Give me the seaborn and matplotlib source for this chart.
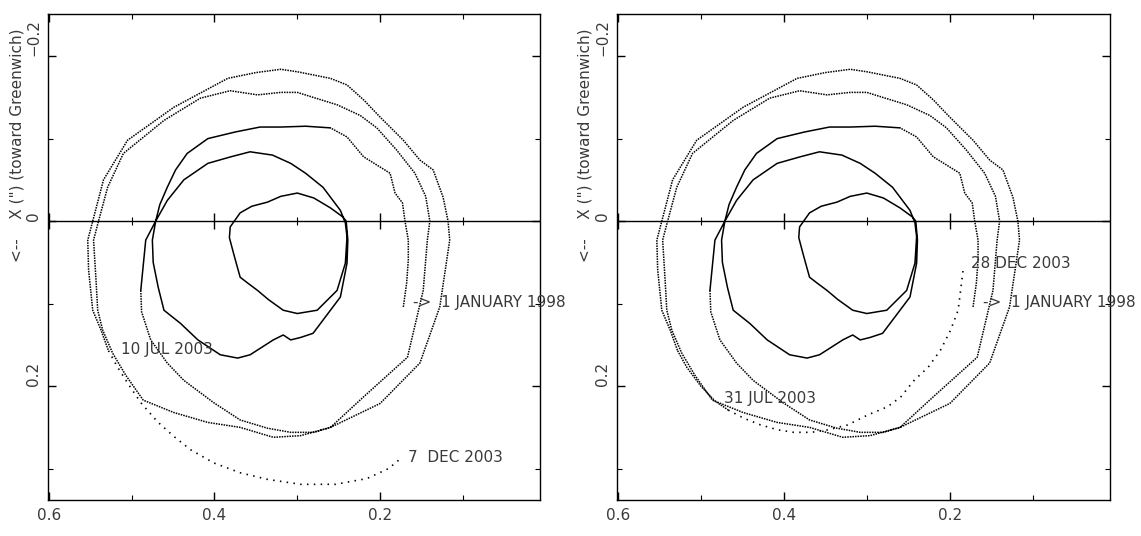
import matplotlib
matplotlib.use("Agg")
import matplotlib.pyplot as plt
import seaborn as sns

sns.set_theme(style="white")
plt.rcParams["font.family"] = ["DejaVu Sans"]

# Polar motion track, y (") horizontal, x (") vertical
# 1 Jan 1998 start, outer part of first loop
start_y = [0.172, 0.168, 0.166, 0.166, 0.170, 0.173, 0.182, 0.188, 0.220, 0.240, 0.260]
start_x = [0.104, 0.075, 0.047, 0.023, 0.000, -0.022, -0.034, -0.058, -0.078, -0.102, -0.113]

# inner loops (1998-2000), dense enough to look solid
inner_y = [0.260, 0.290, 0.320, 0.345, 0.375, 0.408, 0.433, 0.447, 0.457, 0.466, 0.471,
           0.475, 0.474, 0.468, 0.461, 0.441, 0.420, 0.393, 0.372, 0.357, 0.329, 0.317,
           0.308, 0.296, 0.281, 0.269, 0.248, 0.240, 0.239, 0.241,
           0.245, 0.260, 0.280, 0.300, 0.320, 0.336, 0.355, 0.369, 0.381,
           0.382, 0.377, 0.374, 0.369, 0.360, 0.348, 0.335, 0.317, 0.300, 0.276, 0.252,
           0.242, 0.240,
           0.242, 0.248, 0.269, 0.290, 0.308, 0.330, 0.357, 0.380, 0.408, 0.437, 0.457,
           0.471, 0.483, 0.489]
inner_x = [-0.113, -0.115, -0.114, -0.114, -0.108, -0.100, -0.082, -0.062, -0.041, -0.020, 0.000,
           0.023, 0.050, 0.080, 0.108, 0.124, 0.144, 0.162, 0.166, 0.162, 0.144, 0.138,
           0.144, 0.141, 0.136, 0.120, 0.092, 0.051, 0.023, 0.000,
           -0.005, -0.016, -0.028, -0.034, -0.030, -0.023, -0.018, -0.010, 0.007,
           0.020, 0.039, 0.050, 0.068, 0.075, 0.084, 0.095, 0.108, 0.112, 0.108, 0.084,
           0.051, 0.019,
           0.002, -0.013, -0.041, -0.058, -0.070, -0.080, -0.084, -0.078, -0.070, -0.050, -0.025,
           0.000, 0.023, 0.084]

# outer loops (2000 - 10 Jul 2003)
outer_y = [0.489, 0.488, 0.477, 0.457, 0.437, 0.401, 0.369, 0.336, 0.308, 0.280, 0.260,
           0.220, 0.167, 0.148, 0.143,
           0.140, 0.145, 0.158, 0.180, 0.204, 0.224, 0.252, 0.281, 0.300, 0.320, 0.348,
           0.381, 0.417, 0.461, 0.510, 0.529, 0.540,
           0.546, 0.543, 0.541, 0.535, 0.523, 0.507, 0.486, 0.449, 0.408, 0.369, 0.329,
           0.296, 0.260,
           0.200, 0.152, 0.128, 0.116, 0.118, 0.124, 0.136, 0.152, 0.172, 0.200, 0.220,
           0.240, 0.260, 0.300, 0.320,
           0.350, 0.384, 0.449, 0.505, 0.534, 0.547, 0.553, 0.552, 0.547, 0.537, 0.528]
outer_x = [0.084, 0.110, 0.144, 0.172, 0.193, 0.220, 0.241, 0.251, 0.256, 0.256, 0.250,
           0.213, 0.165, 0.084, 0.023,
           0.000, -0.030, -0.058, -0.086, -0.113, -0.128, -0.141, -0.150, -0.156, -0.156, -0.153,
           -0.158, -0.149, -0.122, -0.082, -0.041, 0.000,
           0.023, 0.072, 0.108, 0.132, 0.160, 0.187, 0.217, 0.232, 0.244, 0.250, 0.262,
           0.260, 0.250,
           0.221, 0.172, 0.104, 0.023, 0.000, -0.029, -0.062, -0.074, -0.098, -0.126, -0.147,
           -0.165, -0.173, -0.181, -0.184,
           -0.180, -0.173, -0.138, -0.098, -0.050, 0.000, 0.023, 0.059, 0.108, 0.132, 0.157]

# observed data 10 Jul - 31 Jul 2003 (right panel only)
extra_y = [0.528, 0.517, 0.500, 0.483, 0.467]
extra_x = [0.157, 0.177, 0.200, 0.218, 0.229]

# predictions
pred1_y = [0.528, 0.517, 0.505, 0.489, 0.469, 0.449, 0.429, 0.401, 0.369, 0.336, 0.296,
           0.254, 0.216, 0.190, 0.173]
pred1_x = [0.157, 0.177, 0.196, 0.220, 0.243, 0.261, 0.277, 0.293, 0.305, 0.313, 0.319,
           0.319, 0.312, 0.300, 0.286]
pred2_y = [0.467, 0.448, 0.428, 0.407, 0.388, 0.367, 0.347, 0.323, 0.299, 0.275, 0.259,
           0.243, 0.226, 0.211, 0.199, 0.190, 0.187, 0.184]
pred2_x = [0.229, 0.239, 0.247, 0.253, 0.256, 0.256, 0.253, 0.247, 0.235, 0.225, 0.213,
           0.193, 0.177, 0.156, 0.132, 0.108, 0.084, 0.059]

major_h = [0.6, 0.4, 0.2]
minor_h = [0.5, 0.3, 0.1]
major_v = [-0.2, 0.0, 0.2]
minor_v = [-0.1, 0.1, 0.3]
h_labels = ["0.6", "0.4", "0.2"]
v_labels = ["\u22120.2", "0", "0.2"]

ylab = "<--    X (\") (toward Greenwich)"
start_lab = "->  1 JANUARY 1998"
panels = [
    dict(extra=False, py=pred1_y, px=pred1_x,
         notes=[("10 JUL 2003", 0.513, 0.155), ("7  DEC 2003", 0.166, 0.287)]),
    dict(extra=True, py=pred2_y, px=pred2_x,
         notes=[("31 JUL 2003", 0.472, 0.215), ("28 DEC 2003", 0.175, 0.051)]),
]

fig = plt.figure(figsize=(11.41, 5.36), dpi=100)
axes = [fig.add_axes([48 / 1141, 36 / 536, 492 / 1141, 486 / 536]),
        fig.add_axes([617 / 1141, 36 / 536, 493 / 1141, 486 / 536])]

fine = (0, (1.0, 0.7))
sparse = (0, (0.9, 3.2))
txt_col = "#3a3a3a"
fs = 11

for ax, p in zip(axes, panels):
    sns.lineplot(x=start_y, y=start_x, sort=False, estimator=None, ax=ax,
                 color="black", lw=1.1, linestyle=fine)
    sns.lineplot(x=inner_y, y=inner_x, sort=False, estimator=None, ax=ax,
                 color="black", lw=1.1)
    sns.lineplot(x=outer_y, y=outer_x, sort=False, estimator=None, ax=ax,
                 color="black", lw=1.1, linestyle=fine)
    if p["extra"]:
        sns.lineplot(x=extra_y, y=extra_x, sort=False, estimator=None, ax=ax,
                     color="black", lw=1.1, linestyle=fine)
    sns.lineplot(x=p["py"], y=p["px"], sort=False, estimator=None, ax=ax,
                 color="black", lw=1.2, linestyle=sparse)

    # zero line with its crossing ticks
    ax.axhline(0, color="black", lw=1.0)
    ax.plot(major_h, [0] * len(major_h), ls="none", marker="|", ms=11, mew=1.0, color="black")
    ax.plot(minor_h, [0] * len(minor_h), ls="none", marker="|", ms=6, mew=0.8, color="black")

    ax.set_xlim(0.601, 0.007)
    ax.set_ylim(0.338, -0.251)
    ax.set_xticks(major_h)
    ax.set_xticklabels(h_labels)
    ax.set_xticks(minor_h, minor=True)
    ax.set_yticks(major_v)
    ax.set_yticklabels(v_labels, rotation=90, va="bottom")
    ax.set_yticks(minor_v, minor=True)
    ax.tick_params(which="both", direction="in", bottom=True, top=True, left=True, right=True,
                   colors="black", labelcolor=txt_col, labelsize=fs)
    ax.tick_params(which="major", length=6, width=1.0)
    ax.tick_params(which="minor", length=3.5, width=0.8)
    ax.tick_params(axis="x", pad=6)
    ax.tick_params(axis="y", pad=5)
    ax.set_xlabel("")
    ax.set_ylabel("")
    for s in ax.spines.values():
        s.set_color("black")
        s.set_linewidth(1.0)

    ax.text(-0.064, 0.73, ylab, transform=ax.transAxes, rotation=90,
            ha="center", va="center", fontsize=fs, color=txt_col)
    ax.text(0.160, 0.099, start_lab, ha="left", va="center", fontsize=fs,
            color=txt_col, clip_on=False)
    for s, hx, vx in p["notes"]:
        ax.text(hx, vx, s, ha="left", va="center", fontsize=fs, color=txt_col, clip_on=False)

fig.savefig("out.png", dpi=100)
